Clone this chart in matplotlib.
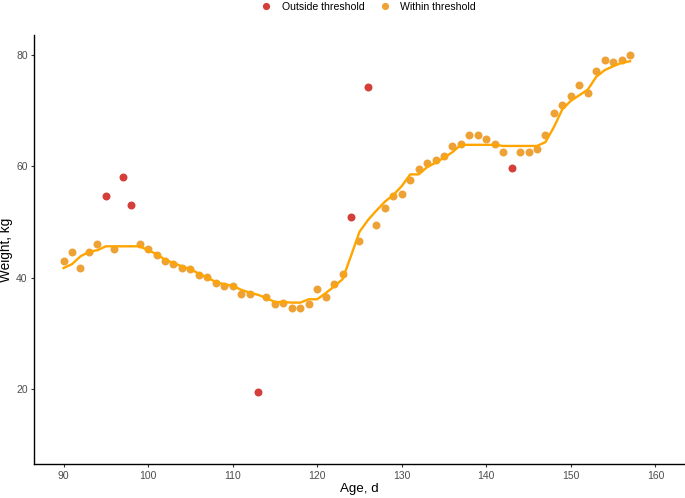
import matplotlib
matplotlib.use("Agg")
import matplotlib.pyplot as plt
from matplotlib.lines import Line2D

plt.rcParams['font.family'] = ['Liberation Sans', 'DejaVu Sans']

age = list(range(90, 158))
weight = [43.0, 44.5, 41.7, 44.5, 46.0, 54.6, 45.1, 58.1, 53.0, 46.0,
          45.1, 44.0, 43.0, 42.5, 41.7, 41.5, 40.5, 40.1, 39.0, 38.5,
          38.5, 37.0, 37.0, 19.5, 36.5, 35.2, 35.5, 34.5, 34.5, 35.2,
          38.0, 36.5, 38.8, 40.7, 50.8, 46.5, 74.1, 49.5, 52.5, 54.6,
          55.0, 57.5, 59.5, 60.6, 61.0, 61.8, 63.6, 64.0, 65.5, 65.5,
          64.8, 64.0, 62.5, 59.6, 62.5, 62.5, 63.0, 65.5, 69.5, 71.0,
          72.6, 74.5, 73.1, 77.1, 79.1, 78.6, 79.1, 80.0]
outside = [95, 97, 98, 113, 124, 126, 143]
smooth = [41.7, 42.4, 43.8, 44.6, 44.9, 45.6, 45.6, 45.6, 45.6, 45.6,
          44.9, 44.2, 43.2, 42.6, 42.0, 41.5, 40.7, 40.0, 39.2, 38.8,
          38.5, 37.8, 37.3, 36.9, 36.3, 35.6, 35.6, 35.5, 35.5, 36.1,
          36.1, 37.2, 38.4, 39.7, 43.9, 48.2, 50.3, 52.0, 53.6, 54.8,
          56.4, 58.5, 58.5, 59.8, 60.6, 61.5, 62.5, 63.8, 63.8, 63.8,
          63.8, 63.8, 63.6, 63.6, 63.6, 63.6, 63.6, 64.3, 67.0, 70.2,
          71.7, 72.7, 73.7, 76.0, 77.2, 77.9, 78.5, 78.8]
labels = ["Outside threshold", "Within threshold"]
colors = ["#D43F3A", "#EEA236"]

fig = plt.figure(figsize=(6.85, 4.98), dpi=100)
ax = fig.add_axes([0.0496, 0.0677, 0.9504, 0.862])

x_in = [a for a, w in zip(age, weight) if a not in outside]
y_in = [w for a, w in zip(age, weight) if a not in outside]
x_out = [a for a, w in zip(age, weight) if a in outside]
y_out = [w for a, w in zip(age, weight) if a in outside]

ax.scatter(x_in, y_in, s=33, color=colors[1], linewidths=0, zorder=2)
ax.scatter(x_out, y_out, s=33, color=colors[0], linewidths=0, zorder=2)
ax.plot(age, smooth, color="#FFA500", lw=1.7, zorder=3)

ax.set_xlim(86.5, 163.5)
ax.set_ylim(6.5, 83.5)
ax.set_xticks([90, 100, 110, 120, 130, 140, 150, 160])
ax.set_yticks([20, 40, 60, 80])
ax.spines['top'].set_visible(False)
ax.spines['right'].set_visible(False)
ax.spines['left'].set_linewidth(1.0)
ax.spines['bottom'].set_linewidth(1.0)
ax.tick_params(axis='both', colors='#333333', labelcolor='#4D4D4D',
               labelsize=7.5, length=2.5, width=0.8, pad=2)
ax.set_xlabel("Age, d", fontsize=9.6, labelpad=2)
ax.set_ylabel("Weight, kg", fontsize=9.8)
ax.yaxis.set_label_coords(-0.0315, 0.5)

handles = [Line2D([], [], ls='', marker='o', ms=5.2, color=c, mec='none') for c in colors]
fig.legend(handles, labels, loc='center', bbox_to_anchor=(0.537, 1 - 6.5 / 498),
           ncol=2, frameon=False, fontsize=7.6, handletextpad=0.9,
           columnspacing=1.3, handlelength=1.2, borderpad=0)

fig.savefig("out.png", dpi=100)
